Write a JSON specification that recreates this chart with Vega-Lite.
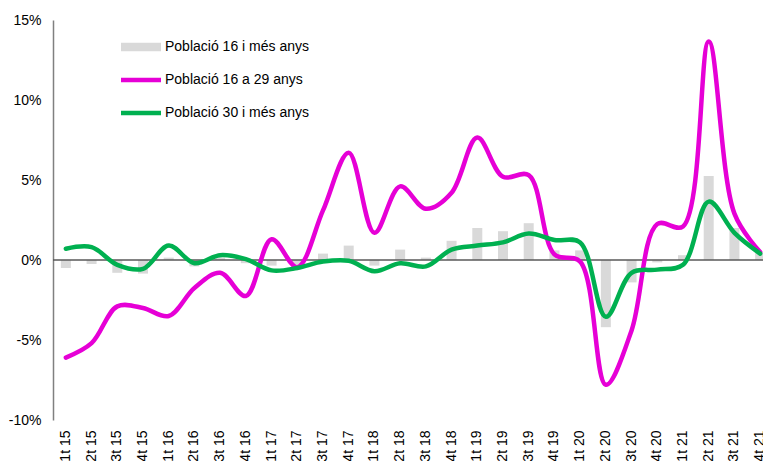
{
  "$schema": "https://vega.github.io/schema/vega-lite/v6.json",
  "width": 710,
  "height": 400,
  "autosize": {"type": "none"},
  "padding": {"left": 53, "top": 20, "right": 0, "bottom": 41},
  "background": "white",
  "config": {"view": {"stroke": null}, "font": "Liberation Sans"},
  "datasets": {
    "d": [
      {"q":"1t 15","s":"Població 16 i més anys","v":-0.5},
      {"q":"2t 15","s":"Població 16 i més anys","v":-0.25},
      {"q":"3t 15","s":"Població 16 i més anys","v":-0.8},
      {"q":"4t 15","s":"Població 16 i més anys","v":-0.85},
      {"q":"1t 16","s":"Població 16 i més anys","v":0.15},
      {"q":"2t 16","s":"Població 16 i més anys","v":-0.4},
      {"q":"3t 16","s":"Població 16 i més anys","v":0.15},
      {"q":"4t 16","s":"Població 16 i més anys","v":-0.2},
      {"q":"1t 17","s":"Població 16 i més anys","v":-0.35},
      {"q":"2t 17","s":"Població 16 i més anys","v":-0.3},
      {"q":"3t 17","s":"Població 16 i més anys","v":0.4},
      {"q":"4t 17","s":"Població 16 i més anys","v":0.9},
      {"q":"1t 18","s":"Població 16 i més anys","v":-0.35},
      {"q":"2t 18","s":"Població 16 i més anys","v":0.65},
      {"q":"3t 18","s":"Població 16 i més anys","v":0.15},
      {"q":"4t 18","s":"Població 16 i més anys","v":1.2},
      {"q":"1t 19","s":"Població 16 i més anys","v":2.0},
      {"q":"2t 19","s":"Població 16 i més anys","v":1.8},
      {"q":"3t 19","s":"Població 16 i més anys","v":2.3},
      {"q":"4t 19","s":"Població 16 i més anys","v":0.6},
      {"q":"1t 20","s":"Població 16 i més anys","v":0.6},
      {"q":"2t 20","s":"Població 16 i més anys","v":-4.2},
      {"q":"3t 20","s":"Població 16 i més anys","v":-1.4},
      {"q":"4t 20","s":"Població 16 i més anys","v":-0.15},
      {"q":"1t 21","s":"Població 16 i més anys","v":0.3},
      {"q":"2t 21","s":"Població 16 i més anys","v":5.25},
      {"q":"3t 21","s":"Població 16 i més anys","v":2.0},
      {"q":"4t 21","s":"Població 16 i més anys","v":0.45},
      {"q":"1t 15","s":"Població 16 a 29 anys","v":-6.1},
      {"q":"2t 15","s":"Població 16 a 29 anys","v":-5.2},
      {"q":"3t 15","s":"Població 16 a 29 anys","v":-2.9},
      {"q":"4t 15","s":"Població 16 a 29 anys","v":-3.0},
      {"q":"1t 16","s":"Població 16 a 29 anys","v":-3.5},
      {"q":"2t 16","s":"Població 16 a 29 anys","v":-1.75},
      {"q":"3t 16","s":"Població 16 a 29 anys","v":-0.8},
      {"q":"4t 16","s":"Població 16 a 29 anys","v":-2.25},
      {"q":"1t 17","s":"Població 16 a 29 anys","v":1.3},
      {"q":"2t 17","s":"Població 16 a 29 anys","v":-0.45},
      {"q":"3t 17","s":"Població 16 a 29 anys","v":3.1},
      {"q":"4t 17","s":"Població 16 a 29 anys","v":6.7},
      {"q":"1t 18","s":"Població 16 a 29 anys","v":1.7},
      {"q":"2t 18","s":"Població 16 a 29 anys","v":4.6},
      {"q":"3t 18","s":"Població 16 a 29 anys","v":3.2},
      {"q":"4t 18","s":"Població 16 a 29 anys","v":4.2},
      {"q":"1t 19","s":"Població 16 a 29 anys","v":7.65},
      {"q":"2t 19","s":"Població 16 a 29 anys","v":5.2},
      {"q":"3t 19","s":"Població 16 a 29 anys","v":5.3},
      {"q":"4t 19","s":"Població 16 a 29 anys","v":0.35},
      {"q":"1t 20","s":"Població 16 a 29 anys","v":-0.1},
      {"q":"2t 20","s":"Població 16 a 29 anys","v":-7.8},
      {"q":"3t 20","s":"Població 16 a 29 anys","v":-4.4},
      {"q":"4t 20","s":"Població 16 a 29 anys","v":2.25},
      {"q":"1t 21","s":"Població 16 a 29 anys","v":2.1},
      {"q":"2t 21","s":"Població 16 a 29 anys","v":13.65},
      {"q":"3t 21","s":"Població 16 a 29 anys","v":2.9},
      {"q":"4t 21","s":"Població 16 a 29 anys","v":0.5},
      {"q":"1t 15","s":"Població 30 i més anys","v":0.7},
      {"q":"2t 15","s":"Població 30 i més anys","v":0.8},
      {"q":"3t 15","s":"Població 30 i més anys","v":-0.3},
      {"q":"4t 15","s":"Població 30 i més anys","v":-0.55},
      {"q":"1t 16","s":"Població 30 i més anys","v":0.9},
      {"q":"2t 16","s":"Població 30 i més anys","v":-0.2},
      {"q":"3t 16","s":"Població 30 i més anys","v":0.3},
      {"q":"4t 16","s":"Població 30 i més anys","v":0.05},
      {"q":"1t 17","s":"Població 30 i més anys","v":-0.65},
      {"q":"2t 17","s":"Població 30 i més anys","v":-0.5},
      {"q":"3t 17","s":"Població 30 i més anys","v":-0.1},
      {"q":"4t 17","s":"Població 30 i més anys","v":-0.05},
      {"q":"1t 18","s":"Població 30 i més anys","v":-0.7},
      {"q":"2t 18","s":"Població 30 i més anys","v":-0.2},
      {"q":"3t 18","s":"Població 30 i més anys","v":-0.4},
      {"q":"4t 18","s":"Població 30 i més anys","v":0.65},
      {"q":"1t 19","s":"Població 30 i més anys","v":0.9},
      {"q":"2t 19","s":"Població 30 i més anys","v":1.1},
      {"q":"3t 19","s":"Població 30 i més anys","v":1.65},
      {"q":"4t 19","s":"Població 30 i més anys","v":1.25},
      {"q":"1t 20","s":"Població 30 i més anys","v":1.1},
      {"q":"2t 20","s":"Població 30 i més anys","v":-3.55},
      {"q":"3t 20","s":"Població 30 i més anys","v":-0.8},
      {"q":"4t 20","s":"Població 30 i més anys","v":-0.6},
      {"q":"1t 21","s":"Població 30 i més anys","v":-0.3},
      {"q":"2t 21","s":"Població 30 i més anys","v":3.65},
      {"q":"3t 21","s":"Població 30 i més anys","v":1.7},
      {"q":"4t 21","s":"Població 30 i més anys","v":0.4}
    ]
  },
  "data": {"name": "d"},
  "layer": [
    {
      "transform": [{"filter": {"field": "s", "equal": "Població 16 i més anys"}}],
      "mark": {"type": "bar", "width": 10},
      "encoding": {
        "x": {
          "field": "q", "type": "ordinal", "sort": null, "title": null,
          "scale": {"range": [0, 720], "paddingInner": 0, "paddingOuter": 0},
          "axis": {"orient": "bottom", "domain": false, "ticks": false, "labelAngle": -90, "labelFontSize": 14, "labelPadding": 10, "labelColor": "#000000", "labelOverlap": false, "labelBound": false, "labelFlush": false, "labelFont": "Liberation Sans"}
        },
        "y": {
          "field": "v", "type": "quantitative", "title": null,
          "scale": {"domain": [-10, 15], "nice": false, "zero": false},
          "axis": {"values": [-10, -5, 0, 5, 10, 15], "labelExpr": "datum.value + '%'", "grid": false, "ticks": false, "domainColor": "#808080", "domainWidth": 1.5, "labelFontSize": 14, "labelColor": "#000000", "labelPadding": 12, "labelFont": "Liberation Sans"}
        },
        "color": {
          "field": "s", "type": "nominal",
          "scale": {"domain": ["Població 16 i més anys", "Població 16 a 29 anys", "Població 30 i més anys"], "range": ["#d9d9d9", "#e600d6", "#00b050"]},
          "legend": {
            "orient": "none", "legendX": 78, "legendY": 17, "title": null,
            "labelFontSize": 14, "labelColor": "#000000", "labelFont": "Liberation Sans",
            "symbolSize": 400, "symbolType": "M-2,-0.22H2V0.22H-2Z", "symbolStrokeWidth": 0, "labelOffset": 14, "rowPadding": 16, "padding": 0,
            "encode": {
              "symbols": {
                "update": {
                  "fill": {"scale": "color", "field": "value"},
                  "stroke": {"value": "transparent"},
                  "strokeWidth": {"value": 0},
                  "shape": {"signal": "datum.value == 'Població 16 i més anys' ? 'M-2,-0.42H2V0.42H-2Z' : 'M-2,-0.22H2V0.22H-2Z'"}
                }
              }
            }
          }
        }
      }
    },
    {
      "data": {"values": [{}]},
      "mark": {"type": "rule", "color": "#595959", "strokeWidth": 1.5},
      "encoding": {"y": {"datum": 0}}
    },
    {
      "transform": [{"filter": {"not": {"field": "s", "equal": "Població 16 i més anys"}}}],
      "mark": {"type": "line", "interpolate": "catmull-rom", "strokeWidth": 4.5, "strokeCap": "round", "strokeJoin": "round"},
      "encoding": {
        "x": {"field": "q", "type": "ordinal", "sort": null},
        "y": {"field": "v", "type": "quantitative"},
        "color": {"field": "s", "type": "nominal"}
      }
    }
  ]
}
